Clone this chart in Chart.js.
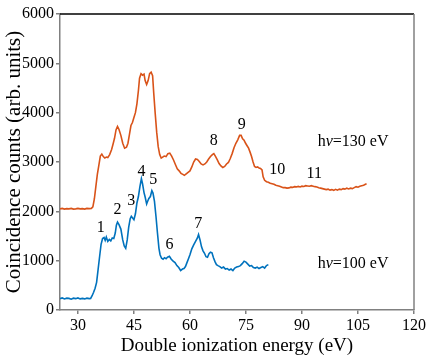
<!DOCTYPE html>
<html>
<head>
<meta charset="utf-8">
<script src="https://cdn.jsdelivr.net/npm/chart.js@4.4.0/dist/chart.umd.min.js"></script>
<style>
  html, body { margin: 0; padding: 0; background: #fff; }
  #wrap { width: 428px; height: 359px; position: relative; }
</style>
</head>
<body>
<div id="wrap"><canvas id="chartCoinc"></canvas></div>
<script>
// === Données ===
const xTicks = [30, 45, 60, 75, 90, 105, 120];
const yTicks = [0, 1000, 2000, 3000, 4000, 5000, 6000];

// hν = 100 eV (bleu)
const energie100 = [25.2, 25.8, 26.4, 27.0, 27.6, 28.2, 28.8, 29.4, 30.0, 30.6, 31.2, 31.8, 32.4, 33.0, 33.4, 33.8, 34.2, 34.6, 35.0, 35.4,
  35.8, 36.2, 36.6, 37.0, 37.3, 37.6, 38.0, 38.4, 38.8, 39.2, 39.6, 40.0, 40.3, 40.6, 41.0, 41.5, 42.0, 42.4, 42.8, 43.2,
  43.6, 44.0, 44.3, 44.7, 45.0, 45.4, 45.8, 46.2, 46.6, 47.0, 47.3, 47.7, 48.0, 48.4, 48.7, 49.0, 49.4, 49.8, 50.1, 50.5,
  50.9, 51.3, 51.7, 52.0, 52.4, 52.8, 53.2, 53.6, 54.0, 54.5, 55.0, 55.5, 56.0, 56.5, 57.0, 57.5, 58.0, 58.4, 58.8, 59.2,
  59.6, 60.0, 60.5, 61.0, 61.5, 62.0, 62.3, 62.7, 63.1, 63.5, 63.9, 64.3, 64.7, 65.1, 65.5, 65.9, 66.3, 66.7, 67.1, 67.5,
  68.0, 68.5, 69.0, 69.5, 70.0, 70.5, 71.0, 71.5, 72.0, 72.5, 73.0, 73.5, 74.0, 74.5, 75.0, 75.5, 76.0, 76.5, 77.0, 77.5,
  78.0, 78.5, 79.0, 79.5, 80.0, 80.5, 81.0];
const coups100 = [230, 245, 225, 240, 235, 220, 240, 230, 245, 225, 235, 225, 240, 230, 235, 290, 360, 440, 560, 820,
  1080, 1330, 1450, 1470, 1410, 1480, 1390, 1430, 1400, 1460, 1450, 1560, 1720, 1780, 1730, 1640, 1420, 1300, 1250, 1420,
  1680, 1850, 1900, 1860, 1830, 1950, 2170, 2300, 2500, 2660, 2560, 2380, 2290, 2150, 2210, 2260, 2300, 2420, 2370, 2200,
  1900, 1560, 1250, 1120, 1050, 1030, 1060, 1040, 1070, 1090, 1030, 990, 960, 900, 860, 800, 830, 840, 880, 960,
  1040, 1120, 1240, 1320, 1390, 1460, 1530, 1420, 1280, 1200, 1150, 1080, 1070, 1140, 1170, 1160, 1060, 980, 920, 900,
  880, 850, 870, 830, 840, 810, 830, 800, 850, 870, 880, 900, 940, 990, 970, 930, 890, 900, 860, 850,
  870, 840, 860, 880, 850, 900, 920];

// hν = 130 eV (orange)
const energie130 = [25.2, 25.8, 26.4, 27.0, 27.6, 28.2, 28.8, 29.4, 30.0, 30.6, 31.2, 31.8, 32.4, 33.0, 33.6, 34.0, 34.4, 34.8, 35.2, 35.6,
  36.0, 36.4, 36.8, 37.2, 37.6, 38.0, 38.5, 39.0, 39.4, 39.8, 40.2, 40.6, 41.0, 41.5, 42.0, 42.5, 43.0, 43.4, 43.8, 44.2,
  44.6, 45.0, 45.4, 45.8, 46.2, 46.5, 46.9, 47.3, 47.7, 48.0, 48.4, 48.8, 49.2, 49.6, 50.0, 50.3, 50.7, 51.1, 51.5, 51.9,
  52.3, 52.7, 53.1, 53.6, 54.1, 54.6, 55.1, 55.6, 56.1, 56.6, 57.1, 57.6, 58.1, 58.5, 59.0, 59.5, 60.0, 60.5, 61.0, 61.5,
  62.0, 62.5, 63.0, 63.5, 64.0, 64.5, 65.0, 65.5, 66.0, 66.4, 66.8, 67.3, 67.8, 68.3, 68.8, 69.3, 69.8, 70.3, 70.8, 71.3,
  71.8, 72.3, 72.8, 73.3, 73.7, 74.1, 74.5, 74.9, 75.3, 75.7, 76.1, 76.5, 76.9, 77.3, 77.7, 78.1, 78.5, 78.9, 79.3, 79.6,
  80.0, 80.5, 81.0, 81.5, 82.0, 82.5, 83.0, 83.5, 84.0, 84.5, 85.0, 85.5, 86.0, 86.5, 87.0, 87.5, 88.0, 88.5, 89.0, 89.5,
  90.0, 90.5, 91.0, 91.5, 92.0, 92.5, 93.0, 93.5, 94.0, 94.5, 95.0, 95.5, 96.0, 96.5, 97.0, 97.5, 98.0, 98.5, 99.0, 99.5,
  100.0, 100.5, 101.0, 101.5, 102.0, 102.5, 103.0, 103.5, 104.0, 104.5, 105.0, 105.5, 106.0, 106.5, 107.0, 107.3];
const coups130 = [2050, 2060, 2045, 2055, 2050, 2060, 2045, 2050, 2060, 2050, 2055, 2045, 2060, 2055, 2060, 2090, 2250, 2500, 2750, 2930,
  3120, 3160, 3110, 3080, 3100, 3090, 3150, 3250, 3360, 3480, 3650, 3720, 3660, 3540, 3380, 3280, 3300, 3380, 3560, 3740,
  3800, 3900, 4000, 4180, 4450, 4700, 4790, 4760, 4780, 4650, 4570, 4650, 4790, 4820, 4750, 4400, 3980, 3600, 3310, 3150,
  3080, 3100, 3120, 3110, 3170, 3180, 3120, 3040, 2950, 2860, 2820, 2770, 2750, 2730, 2760, 2790, 2820, 2900, 3000, 3060,
  3050, 3010, 2960, 2940, 2960, 3000, 3060, 3110, 3150, 3170, 3120, 3050, 2970, 2920, 2890, 2910, 2960, 2990, 3070, 3170,
  3290, 3380, 3450, 3540, 3540, 3470, 3440, 3380, 3330, 3280, 3200, 3110, 3000, 2910, 2890, 2900, 2880, 2870, 2840, 2700,
  2630, 2600, 2590, 2570, 2560, 2550, 2530, 2520, 2510, 2495, 2480, 2480, 2470, 2475, 2490, 2485, 2500, 2495, 2505, 2495,
  2510, 2505, 2520, 2515, 2510, 2520, 2510, 2500, 2495, 2480, 2470, 2460, 2450, 2440, 2450, 2430, 2440, 2425, 2445, 2430,
  2450, 2440, 2460, 2450, 2470, 2455, 2470, 2460, 2480, 2500, 2490, 2510, 2520, 2530, 2550, 2560];

// étiquettes des pics : texte, énergie (eV), coups
const picTextes = ['1', '2', '3', '4', '5', '6', '7', '8', '9', '10', '11'];
const picEnergies = [36.1, 40.6, 44.3, 47.0, 50.2, 54.5, 62.2, 66.4, 73.9, 83.4, 93.3];
const picCoups = [1660, 2030, 2210, 2800, 2640, 1320, 1745, 3430, 3750, 2840, 2760];

const photonTextes = ['130', '100'];
const photonEnergies = [103.7, 103.7];
const photonCoups = [3410, 930];

const SERIF = "'Liberation Serif', 'DejaVu Serif', serif";
Chart.defaults.font.family = SERIF;
Chart.defaults.color = '#000';

function toPoints(xs, ys) {
  return xs.map((x, i) => ({ x: x, y: ys[i] }));
}

// Plugin : cadre haut/droit + étiquettes
const cadreEtiquettes = {
  id: 'cadreEtiquettes',
  afterDatasetsDraw(chart) {
    const ctx = chart.ctx;
    const a = chart.chartArea;
    const sx = chart.scales.x;
    const sy = chart.scales.y;
    ctx.save();
    // bord haut noir
    ctx.strokeStyle = '#000';
    ctx.lineWidth = 1.5;
    ctx.beginPath();
    ctx.moveTo(a.left, a.top);
    ctx.lineTo(a.right, a.top);
    ctx.stroke();
    // bord droit gris
    ctx.strokeStyle = '#808080';
    ctx.beginPath();
    ctx.moveTo(a.right, a.top);
    ctx.lineTo(a.right, a.bottom);
    ctx.stroke();

    ctx.fillStyle = '#000';
    ctx.textAlign = 'center';
    ctx.textBaseline = 'middle';
    ctx.font = '16px ' + SERIF;
    picTextes.forEach((t, i) => {
      ctx.fillText(t, sx.getPixelForValue(picEnergies[i]), sy.getPixelForValue(picCoups[i]));
    });

    // hν=xxx eV avec ν en italique
    photonTextes.forEach((t, i) => {
      const cx = sx.getPixelForValue(photonEnergies[i]);
      const cy = sy.getPixelForValue(photonCoups[i]);
      const fN = '16px ' + SERIF;
      const fI = 'italic 16px ' + SERIF;
      const reste = '=' + t + ' eV';
      ctx.font = fN; const w1 = ctx.measureText('h').width; const w3 = ctx.measureText(reste).width;
      ctx.font = fI; const w2 = ctx.measureText('ν').width;
      let x = cx - (w1 + w2 + w3) / 2;
      ctx.textAlign = 'left';
      ctx.font = fN; ctx.fillText('h', x, cy); x += w1;
      ctx.font = fI; ctx.fillText('ν', x, cy); x += w2;
      ctx.font = fN; ctx.fillText(reste, x, cy);
    });
    ctx.restore();
  }
};

new Chart(document.getElementById('chartCoinc').getContext('2d'), {
  type: 'line',
  data: {
    datasets: [
      {
        label: 'hν=130 eV',
        data: toPoints(energie130, coups130),
        borderColor: '#d95319',
        borderWidth: 1.6,
        pointRadius: 0,
        tension: 0
      },
      {
        label: 'hν=100 eV',
        data: toPoints(energie100, coups100),
        borderColor: '#0072bd',
        borderWidth: 1.6,
        pointRadius: 0,
        tension: 0
      }
    ]
  },
  options: {
    responsive: true,
    maintainAspectRatio: false,
    animation: false,
    layout: { padding: { top: 14, right: 13, left: 0, bottom: 0 } },
    plugins: {
      legend: { display: false },
      tooltip: { enabled: false }
    },
    scales: {
      x: {
        type: 'linear',
        min: 25.2,
        max: 120,
        afterBuildTicks: (scale) => { scale.ticks = xTicks.map(v => ({ value: v })); },
        afterFit: (scale) => { scale.height = 49; },
        ticks: { color: '#000', font: { family: SERIF, size: 16 }, padding: 2, maxRotation: 0, autoSkip: false,
                 callback: (v) => String(v) },
        grid: { drawOnChartArea: false, drawTicks: true, tickLength: 4, color: '#808080', lineWidth: 1.5 },
        border: { color: '#808080', width: 1.5 },
        title: { display: true, text: 'Double ionization energy (eV)', color: '#000', font: { family: SERIF, size: 19 }, padding: { top: 0, bottom: 2 } }
      },
      y: {
        min: 0,
        max: 6000,
        afterBuildTicks: (scale) => { scale.ticks = yTicks.map(v => ({ value: v })); },
        afterFit: (scale) => { scale.width = 60; },
        ticks: { color: '#000', font: { family: SERIF, size: 16 }, padding: 2, callback: (v) => String(v) },
        grid: { drawOnChartArea: false, drawTicks: true, tickLength: 4, color: '#808080', lineWidth: 1.5 },
        border: { color: '#808080', width: 1.5 },
        title: { display: true, text: 'Coincidence counts (arb. units)', color: '#000', font: { family: SERIF, size: 21 }, padding: { top: 2, bottom: 0 } }
      }
    }
  },
  plugins: [cadreEtiquettes]
});
</script>
</body>
</html>
